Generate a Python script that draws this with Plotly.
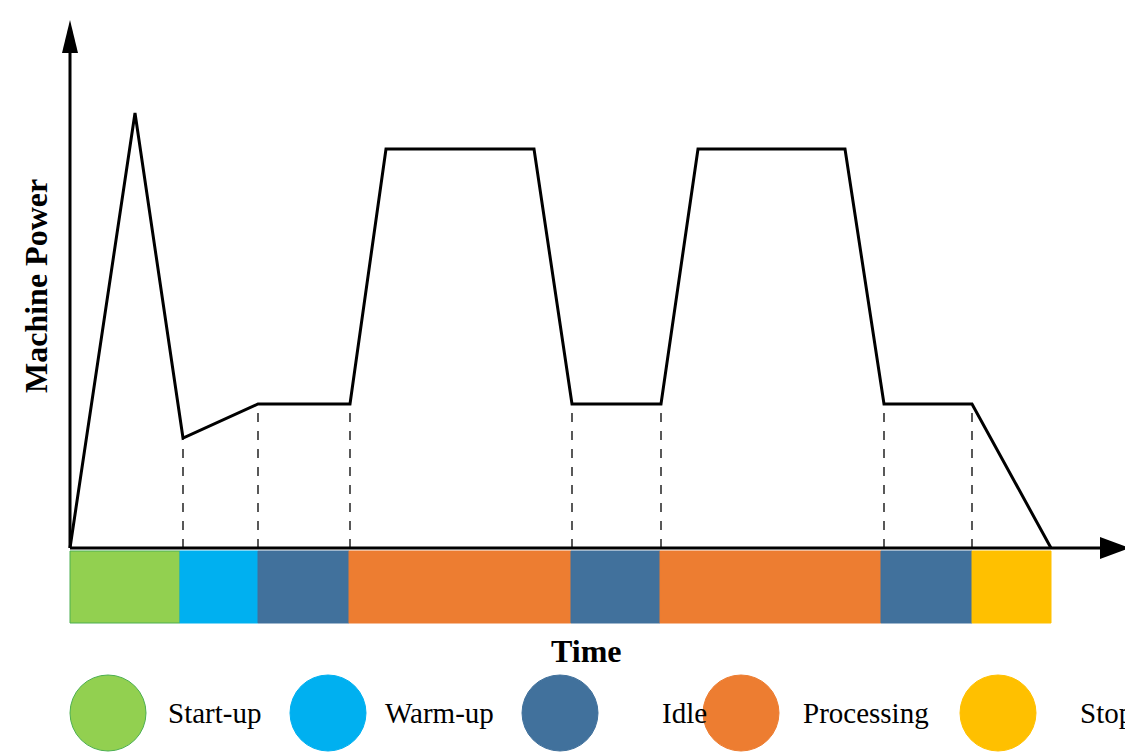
import plotly.graph_objects as go

# schematic power profile (units roughly pixels from the origin)
time = [0, 65, 113, 188, 280, 316, 464, 502, 591, 628, 775, 814, 902, 981]
power = [0, 435, 110, 144, 144, 399, 399, 144, 144, 399, 399, 144, 144, 0]

dash_t = [113, 188, 280, 502, 591, 814, 902]
dash_p = [110, 144, 144, 144, 144, 144, 144]

phase_edges = [0, 110, 188, 279, 501, 590, 811, 902, 981]
phase_names = ["Start-up", "Warm-up", "Idle", "Processing", "Idle", "Processing", "Idle", "Stop"]

colors = {"Start-up": "#92D050", "Warm-up": "#00B0F0", "Idle": "#41719C",
          "Processing": "#ED7D31", "Stop": "#FFC000"}
legend_names = ["Start-up", "Warm-up", "Idle", "Processing", "Stop"]
legend_circle_t = [38, 258, 490, 671, 928]
legend_text_t = [96, 313, 590, 731, 1008]

fig = go.Figure()
fig.add_trace(go.Scatter(x=time, y=power, mode="lines",
                         line=dict(color="black", width=3), showlegend=False))

shapes = []
for t, p in zip(dash_t, dash_p):
    shapes.append(dict(type="line", x0=t, x1=t, y0=0, y1=p,
                       line=dict(color="black", width=1.3, dash="dash")))
for i, name in enumerate(phase_names):
    shapes.append(dict(type="rect", x0=phase_edges[i], x1=phase_edges[i + 1], y0=-3, y1=-75,
                       fillcolor=colors[name],
                       line=dict(color="#4CAF50" if name == "Start-up" else colors[name], width=1),
                       layer="below"))
# axes with arrows
shapes.append(dict(type="line", x0=0, x1=0, y0=0, y1=500, line=dict(color="black", width=3)))
shapes.append(dict(type="path", path="M -8 495 L 8 495 L 0 528 Z", fillcolor="black", line=dict(width=0)))
shapes.append(dict(type="line", x0=0, x1=1035, y0=0, y1=0, line=dict(color="black", width=3)))
shapes.append(dict(type="path", path="M 1030 -11 L 1030 11 L 1060 0 Z", fillcolor="black", line=dict(width=0)))

annotations = []
for name, ct, tt in zip(legend_names, legend_circle_t, legend_text_t):
    shapes.append(dict(type="circle", x0=ct - 38, x1=ct + 38, y0=-203, y1=-127,
                       fillcolor=colors[name],
                       line=dict(color="#4CAF50" if name == "Start-up" else colors[name], width=1)))
    annotations.append(dict(x=tt, y=-165, text=name, showarrow=False, xanchor="left",
                            font=dict(family="Liberation Serif", size=29, color="black")))

annotations.append(dict(x=516, y=-103, text="<b>Time</b>", showarrow=False,
                        font=dict(family="Liberation Serif", size=32, color="black")))
annotations.append(dict(x=-34, y=262, text="<b>Machine Power</b>", showarrow=False, textangle=-90,
                        font=dict(family="Liberation Serif", size=32, color="black")))

fig.update_layout(
    width=1133, height=756, margin=dict(l=0, r=0, t=0, b=0),
    plot_bgcolor="white", paper_bgcolor="white",
    xaxis=dict(range=[-62, 1071], visible=False, fixedrange=True),
    yaxis=dict(range=[-216, 540], visible=False, fixedrange=True),
    shapes=shapes, annotations=annotations,
)
fig.write_html("out.html")
